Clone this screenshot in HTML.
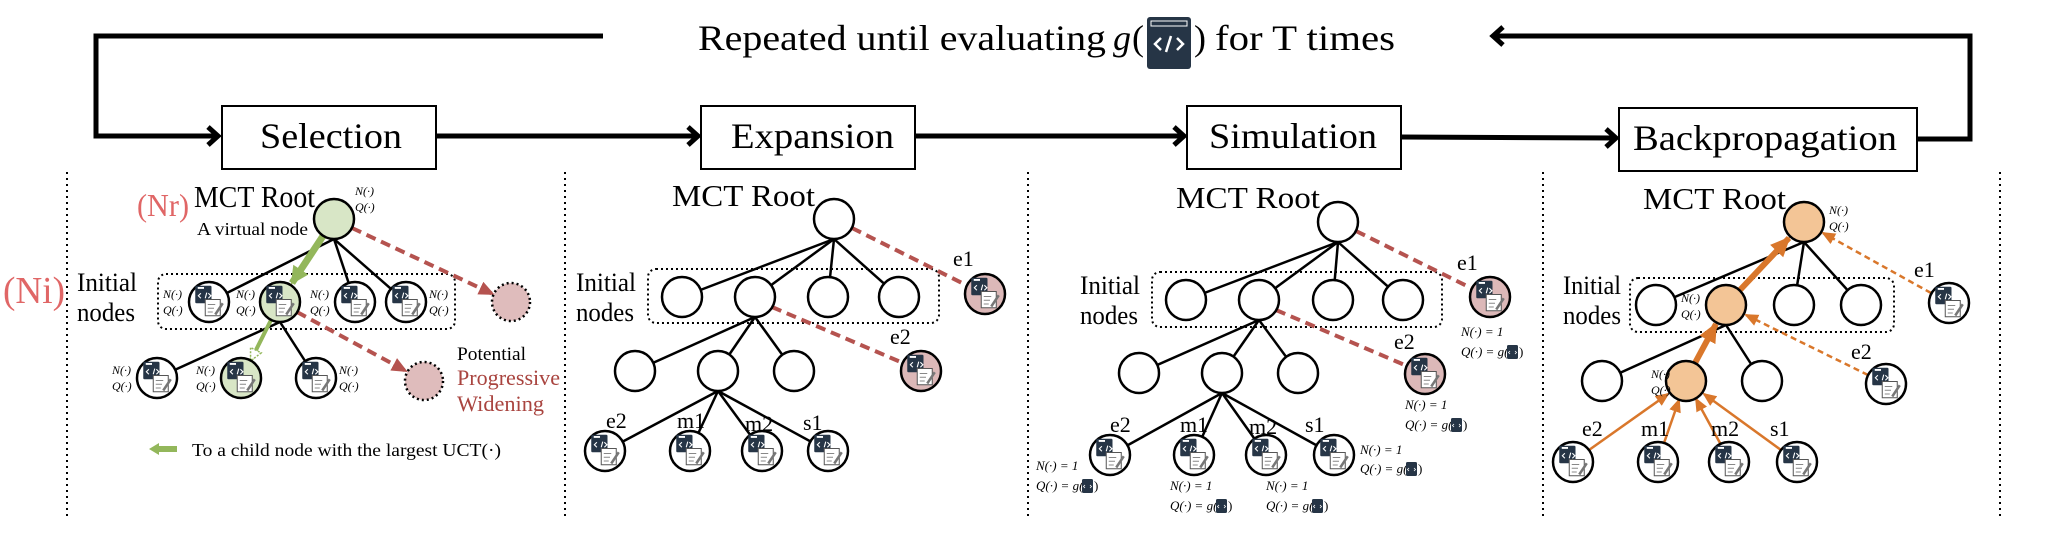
<!DOCTYPE html>
<html><head><meta charset="utf-8"><style>
html,body{margin:0;padding:0;background:#fff;}
svg{display:block;}
text{font-family:"Liberation Serif",serif;fill:#000;}
.nq{font-size:12px;font-style:italic;}
.lb{font-size:22px;}
.it{font-size:26px;}
.mr{font-size:31px;}
.bx{font-size:36px;}
.sm{font-size:13px;}
</style></head><body>
<svg width="2046" height="544" viewBox="0 0 2046 544" xmlns="http://www.w3.org/2000/svg">
<defs>
<symbol id="ic" viewBox="-16 -16 32 32" width="40" height="40">
<rect x="-11" y="-13" width="13" height="14" rx="1" fill="#263546"/>
<rect x="-9" y="-12" width="5" height="1.5" fill="#fff"/>
<path d="M-6.5,-7 l-2,2 2,2 M-0.5,-7 l2,2 -2,2 M-3,-3 l1.2,-4.5" stroke="#fff" stroke-width="0.9" fill="none"/>
<rect x="-3" y="-2" width="12" height="13" fill="#fff" stroke="#555" stroke-width="0.8"/>
<path d="M-1,2 h6 M-1,5 h5 M-1,8 h4" stroke="#888" stroke-width="0.8"/>
<path d="M5,10 L11,1" stroke="#777" stroke-width="2"/>
</symbol>
<symbol id="mi" viewBox="0 0 11 14" width="11" height="14">
<rect x="0" y="0" width="11" height="14" rx="1.5" fill="#263546"/>
<path d="M3,6 l-1.5,1.5 1.5,1.5 M8,6 l1.5,1.5 -1.5,1.5" stroke="#fff" stroke-width="0.8" fill="none"/>
</symbol>
<marker id="ar" markerUnits="userSpaceOnUse" markerWidth="16" markerHeight="16" refX="14" refY="8" orient="auto"><path d="M0,1 L16,8 L0,15 z" fill="#b5534f"/></marker>
<marker id="ag" markerUnits="userSpaceOnUse" markerWidth="18" markerHeight="18" refX="16" refY="9" orient="auto"><path d="M0,0 L18,9 L0,18 z" fill="#93b75b"/></marker>
<marker id="ag2" markerUnits="userSpaceOnUse" markerWidth="14" markerHeight="14" refX="12" refY="7" orient="auto"><path d="M1,1 L13,7 L1,13 z" fill="#fff" stroke="#93b75b" stroke-width="1.5" stroke-dasharray="2,1.5"/></marker>
<marker id="ao" markerUnits="userSpaceOnUse" markerWidth="14" markerHeight="14" refX="12" refY="7" orient="auto"><path d="M0,1 L14,7 L0,13 z" fill="#d9772b"/></marker>
<marker id="aoB" markerUnits="userSpaceOnUse" markerWidth="20" markerHeight="20" refX="18" refY="10" orient="auto"><path d="M0,1 L20,10 L0,19 z" fill="#d9772b"/></marker>
</defs>

<!-- top loop -->
<g stroke="#000" stroke-width="5" fill="none">
<polyline points="603,36 96,36 96,136 218,136"/>
<polyline points="208,127 218,136 208,145"/>
<line x1="436" y1="136" x2="698" y2="136"/>
<polyline points="688,127 698,136 688,145"/>
<line x1="915" y1="136" x2="1184" y2="136"/>
<polyline points="1174,127 1184,136 1174,145"/>
<line x1="1401" y1="137" x2="1616" y2="138"/>
<polyline points="1606,129 1616,138 1606,147"/>
<polyline points="1917,139 1970,139 1970,36 1493,36"/>
<polyline points="1503,27 1493,36 1503,45"/>
</g>
<text x="698" y="50" font-size="36" textLength="408" lengthAdjust="spacingAndGlyphs">Repeated until evaluating</text>
<text x="1113" y="50" font-size="36" font-style="italic">g</text>
<text x="1132" y="50" font-size="36">(</text>
<rect x="1147" y="17" width="44" height="52" rx="3" fill="#263546"/>
<rect x="1151" y="21" width="36" height="5" fill="#263546" stroke="#fff" stroke-width="1"/>
<path d="M1161,38 l-6,6 6,6 M1177,38 l6,6 -6,6 M1166,52 l5,-16" stroke="#fff" stroke-width="2.5" fill="none"/>
<text x="1194" y="50" font-size="36">)</text>
<text x="1215" y="50" font-size="36" textLength="180" lengthAdjust="spacingAndGlyphs">for T times</text>

<!-- boxes -->
<g fill="#fff" stroke="#000" stroke-width="2">
<rect x="222" y="106" width="214" height="63"/>
<rect x="701" y="106" width="214" height="63"/>
<rect x="1187" y="106" width="214" height="63"/>
<rect x="1619" y="108" width="298" height="63"/>
</g>
<text class="bx" x="260" y="148" textLength="142" lengthAdjust="spacingAndGlyphs">Selection</text>
<text class="bx" x="731" y="148" textLength="163" lengthAdjust="spacingAndGlyphs">Expansion</text>
<text class="bx" x="1209" y="148" textLength="168" lengthAdjust="spacingAndGlyphs">Simulation</text>
<text class="bx" x="1633" y="150" textLength="264" lengthAdjust="spacingAndGlyphs">Backpropagation</text>

<!-- separators -->
<g stroke="#000" stroke-width="2" stroke-dasharray="2,4">
<line x1="67" y1="172" x2="67" y2="517"/>
<line x1="565" y1="172" x2="565" y2="517"/>
<line x1="1028" y1="172" x2="1028" y2="517"/>
<line x1="1543" y1="172" x2="1543" y2="517"/>
<line x1="2000" y1="172" x2="2000" y2="517"/>
</g>

<!-- ===== Panel 1 ===== -->
<text x="137" y="216" font-size="32" style="fill:#e06666" textLength="52" lengthAdjust="spacingAndGlyphs">(Nr)</text>
<text x="3" y="303" font-size="38" style="fill:#e06666" textLength="62" lengthAdjust="spacingAndGlyphs">(Ni)</text>
<text class="mr" x="194" y="207" textLength="121" lengthAdjust="spacingAndGlyphs">MCT Root</text>
<text x="197" y="235" font-size="18" textLength="111" lengthAdjust="spacingAndGlyphs">A virtual node</text>
<text class="it" x="77" y="291" textLength="60" lengthAdjust="spacingAndGlyphs">Initial</text>
<text class="it" x="77" y="321" textLength="58" lengthAdjust="spacingAndGlyphs">nodes</text>
<rect x="158" y="274" width="297" height="55" rx="8" fill="none" stroke="#000" stroke-width="2" stroke-dasharray="2,3"/>
<g stroke="#000" stroke-width="2.5">
<line x1="334" y1="239" x2="209" y2="302"/>
<line x1="334" y1="239" x2="355" y2="302"/>
<line x1="334" y1="239" x2="406" y2="302"/>
<line x1="280" y1="322" x2="157" y2="378"/>
<line x1="280" y1="322" x2="316" y2="378"/>
</g>
<line x1="352" y1="228" x2="493" y2="294" stroke="#b5534f" stroke-width="4" stroke-dasharray="10,6" marker-end="url(#ar)"/>
<line x1="297" y1="312" x2="406" y2="371" stroke="#b5534f" stroke-width="4" stroke-dasharray="10,6" marker-end="url(#ar)"/>
<line x1="323" y1="236" x2="292" y2="283" stroke="#93b75b" stroke-width="7" marker-end="url(#ag)"/>
<line x1="271" y1="320" x2="251" y2="360" stroke="#93b75b" stroke-width="4" marker-end="url(#ag2)"/>
<g stroke="#000" stroke-width="2.5" fill="#fff">
<circle cx="334" cy="219" r="20" fill="#d8e6c6"/>
<circle cx="209" cy="302" r="20"/>
<circle cx="280" cy="302" r="20" fill="#d8e6c6"/>
<circle cx="355" cy="302" r="20"/>
<circle cx="406" cy="302" r="20"/>
<circle cx="157" cy="378" r="20"/>
<circle cx="241" cy="378" r="20" fill="#d8e6c6"/>
<circle cx="316" cy="378" r="20"/>
</g>
<g stroke="#000" stroke-width="2.5" fill="#dfbcbc" stroke-dasharray="2,3">
<circle cx="511" cy="302" r="19"/>
<circle cx="424" cy="381" r="19"/>
</g>
<use href="#ic" x="189" y="282"/><use href="#ic" x="260" y="282"/><use href="#ic" x="335" y="282"/><use href="#ic" x="386" y="282"/>
<use href="#ic" x="137" y="358"/><use href="#ic" x="221" y="358"/><use href="#ic" x="296" y="358"/>
<text class="nq" x="355" y="195">N(·)</text><text class="nq" x="355" y="211">Q(·)</text>
<text class="nq" x="163" y="298">N(·)</text><text class="nq" x="163" y="314">Q(·)</text>
<text class="nq" x="236" y="298">N(·)</text><text class="nq" x="236" y="314">Q(·)</text>
<text class="nq" x="310" y="298">N(·)</text><text class="nq" x="310" y="314">Q(·)</text>
<text class="nq" x="429" y="298">N(·)</text><text class="nq" x="429" y="314">Q(·)</text>
<text class="nq" x="112" y="374">N(·)</text><text class="nq" x="112" y="390">Q(·)</text>
<text class="nq" x="196" y="374">N(·)</text><text class="nq" x="196" y="390">Q(·)</text>
<text class="nq" x="339" y="374">N(·)</text><text class="nq" x="339" y="390">Q(·)</text>
<text x="457" y="360" font-size="19" textLength="69" lengthAdjust="spacingAndGlyphs">Potential</text>
<text x="457" y="385" font-size="22" style="fill:#a9443f" textLength="103" lengthAdjust="spacingAndGlyphs">Progressive</text>
<text x="457" y="411" font-size="22" style="fill:#a9443f" textLength="87" lengthAdjust="spacingAndGlyphs">Widening</text>
<path d="M149,449 L159,443 L159,446 L177,446 L177,452 L159,452 L159,455 z" fill="#93b75b"/>
<text x="192" y="456" font-size="18" textLength="309" lengthAdjust="spacingAndGlyphs">To a child node with the largest UCT(·)</text>

<!-- ===== Panel 2 ===== -->
<text class="mr" x="672" y="206" textLength="143" lengthAdjust="spacingAndGlyphs">MCT Root</text>
<text class="it" x="576" y="291" textLength="60" lengthAdjust="spacingAndGlyphs">Initial</text>
<text class="it" x="576" y="321" textLength="58" lengthAdjust="spacingAndGlyphs">nodes</text>
<rect x="648" y="269" width="291" height="54" rx="8" fill="none" stroke="#000" stroke-width="2" stroke-dasharray="2,3"/>
<g stroke="#000" stroke-width="2.5">
<line x1="834" y1="239" x2="682" y2="297"/><line x1="834" y1="239" x2="755" y2="297"/>
<line x1="834" y1="239" x2="828" y2="297"/><line x1="834" y1="239" x2="899" y2="297"/>
<line x1="755" y1="317" x2="635" y2="371"/><line x1="755" y1="317" x2="718" y2="371"/><line x1="755" y1="317" x2="794" y2="371"/>
<line x1="718" y1="391" x2="605" y2="451"/><line x1="718" y1="391" x2="690" y2="451"/>
<line x1="718" y1="391" x2="762" y2="451"/><line x1="718" y1="391" x2="828" y2="451"/>
</g>
<line x1="852" y1="228" x2="968" y2="286" stroke="#b5534f" stroke-width="4" stroke-dasharray="10,6"/>
<line x1="772" y1="307" x2="903" y2="363" stroke="#b5534f" stroke-width="4" stroke-dasharray="10,6"/>
<g stroke="#000" stroke-width="2.5" fill="#fff">
<circle cx="834" cy="219" r="20"/>
<circle cx="682" cy="297" r="20"/><circle cx="755" cy="297" r="20"/><circle cx="828" cy="297" r="20"/><circle cx="899" cy="297" r="20"/>
<circle cx="635" cy="371" r="20"/><circle cx="718" cy="371" r="20"/><circle cx="794" cy="371" r="20"/>
<circle cx="605" cy="451" r="20"/><circle cx="690" cy="451" r="20"/><circle cx="762" cy="451" r="20"/><circle cx="828" cy="451" r="20"/>
<circle cx="985" cy="294" r="20" fill="#dcb8b8"/><circle cx="921" cy="371" r="20" fill="#dcb8b8"/>
</g>
<use href="#ic" x="585" y="431"/><use href="#ic" x="670" y="431"/><use href="#ic" x="742" y="431"/><use href="#ic" x="808" y="431"/>
<use href="#ic" x="965" y="274"/><use href="#ic" x="901" y="351"/>
<text class="lb" x="953" y="266">e1</text><text class="lb" x="890" y="344">e2</text>
<text class="lb" x="606" y="428">e2</text><text class="lb" x="677" y="428">m1</text>
<text class="lb" x="745" y="431">m2</text><text class="lb" x="803" y="430">s1</text>

<!-- ===== Panel 3 ===== -->
<text class="mr" x="1176" y="208" textLength="144" lengthAdjust="spacingAndGlyphs">MCT Root</text>
<text class="it" x="1080" y="294" textLength="60" lengthAdjust="spacingAndGlyphs">Initial</text>
<text class="it" x="1080" y="324" textLength="58" lengthAdjust="spacingAndGlyphs">nodes</text>
<rect x="1152" y="272" width="290" height="55" rx="8" fill="none" stroke="#000" stroke-width="2" stroke-dasharray="2,3"/>
<g stroke="#000" stroke-width="2.5">
<line x1="1338" y1="242" x2="1186" y2="300"/><line x1="1338" y1="242" x2="1259" y2="300"/>
<line x1="1338" y1="242" x2="1333" y2="300"/><line x1="1338" y1="242" x2="1403" y2="300"/>
<line x1="1259" y1="320" x2="1139" y2="373"/><line x1="1259" y1="320" x2="1222" y2="373"/><line x1="1259" y1="320" x2="1298" y2="373"/>
<line x1="1222" y1="393" x2="1110" y2="455"/><line x1="1222" y1="393" x2="1194" y2="455"/>
<line x1="1222" y1="393" x2="1266" y2="455"/><line x1="1222" y1="393" x2="1334" y2="455"/>
</g>
<line x1="1356" y1="231" x2="1473" y2="289" stroke="#b5534f" stroke-width="4" stroke-dasharray="10,6"/>
<line x1="1276" y1="310" x2="1407" y2="366" stroke="#b5534f" stroke-width="4" stroke-dasharray="10,6"/>
<g stroke="#000" stroke-width="2.5" fill="#fff">
<circle cx="1338" cy="222" r="20"/>
<circle cx="1186" cy="300" r="20"/><circle cx="1259" cy="300" r="20"/><circle cx="1333" cy="300" r="20"/><circle cx="1403" cy="300" r="20"/>
<circle cx="1139" cy="373" r="20"/><circle cx="1222" cy="373" r="20"/><circle cx="1298" cy="373" r="20"/>
<circle cx="1110" cy="455" r="20"/><circle cx="1194" cy="455" r="20"/><circle cx="1266" cy="455" r="20"/><circle cx="1334" cy="455" r="20"/>
<circle cx="1490" cy="297" r="20" fill="#dcb8b8"/><circle cx="1425" cy="374" r="20" fill="#dcb8b8"/>
</g>
<use href="#ic" x="1090" y="435"/><use href="#ic" x="1174" y="435"/><use href="#ic" x="1246" y="435"/><use href="#ic" x="1314" y="435"/>
<use href="#ic" x="1470" y="277"/><use href="#ic" x="1405" y="354"/>
<text class="lb" x="1457" y="270">e1</text><text class="lb" x="1394" y="349">e2</text>
<text class="lb" x="1110" y="432">e2</text><text class="lb" x="1180" y="432">m1</text>
<text class="lb" x="1249" y="434">m2</text><text class="lb" x="1305" y="432">s1</text>
<text class="sm" x="1461" y="336" font-style="italic">N(·) = 1</text><text class="sm" x="1461" y="356" font-style="italic">Q(·) = g(</text><use href="#mi" x="1507" y="345"/><text class="sm" x="1519" y="356">)</text>
<text class="sm" x="1405" y="409" font-style="italic">N(·) = 1</text><text class="sm" x="1405" y="429" font-style="italic">Q(·) = g(</text><use href="#mi" x="1451" y="418"/><text class="sm" x="1463" y="429">)</text>
<text class="sm" x="1036" y="470" font-style="italic">N(·) = 1</text><text class="sm" x="1036" y="490" font-style="italic">Q(·) = g(</text><use href="#mi" x="1082" y="479"/><text class="sm" x="1094" y="490">)</text>
<text class="sm" x="1170" y="490" font-style="italic">N(·) = 1</text><text class="sm" x="1170" y="510" font-style="italic">Q(·) = g(</text><use href="#mi" x="1216" y="499"/><text class="sm" x="1228" y="510">)</text>
<text class="sm" x="1266" y="490" font-style="italic">N(·) = 1</text><text class="sm" x="1266" y="510" font-style="italic">Q(·) = g(</text><use href="#mi" x="1312" y="499"/><text class="sm" x="1324" y="510">)</text>
<text class="sm" x="1360" y="454" font-style="italic">N(·) = 1</text><text class="sm" x="1360" y="473" font-style="italic">Q(·) = g(</text><use href="#mi" x="1406" y="462"/><text class="sm" x="1418" y="473">)</text>

<!-- ===== Panel 4 ===== -->
<text class="mr" x="1643" y="209" textLength="143" lengthAdjust="spacingAndGlyphs">MCT Root</text>
<text class="it" x="1563" y="294" textLength="58" lengthAdjust="spacingAndGlyphs">Initial</text>
<text class="it" x="1563" y="324" textLength="58" lengthAdjust="spacingAndGlyphs">nodes</text>
<rect x="1630" y="278" width="264" height="54" rx="8" fill="none" stroke="#000" stroke-width="2" stroke-dasharray="2,3"/>
<g stroke="#000" stroke-width="2.5">
<line x1="1804" y1="242" x2="1656" y2="305"/><line x1="1804" y1="242" x2="1794" y2="305"/><line x1="1804" y1="242" x2="1861" y2="305"/>
<line x1="1726" y1="325" x2="1602" y2="381"/><line x1="1726" y1="325" x2="1762" y2="381"/>
</g>
<line x1="1695" y1="363" x2="1716" y2="324" stroke="#d9772b" stroke-width="6" marker-end="url(#aoB)"/>
<line x1="1740" y1="290" x2="1789" y2="238" stroke="#d9772b" stroke-width="6" marker-end="url(#aoB)"/>
<g stroke="#d9772b" stroke-width="2.5" stroke-dasharray="6,4">
<line x1="1931" y1="293" x2="1823" y2="233" marker-end="url(#ao)"/>
<line x1="1868" y1="375" x2="1746" y2="315" marker-end="url(#ao)"/>
</g>
<g stroke="#d9772b" stroke-width="2.5">
<line x1="1589" y1="450" x2="1668" y2="394" marker-end="url(#ao)"/>
<line x1="1664" y1="443" x2="1679" y2="400" marker-end="url(#ao)"/>
<line x1="1720" y1="443" x2="1696" y2="399" marker-end="url(#ao)"/>
<line x1="1781" y1="450" x2="1704" y2="394" marker-end="url(#ao)"/>
</g>
<g stroke="#000" stroke-width="2.5" fill="#fff">
<circle cx="1804" cy="222" r="20" fill="#f3c596"/>
<circle cx="1656" cy="305" r="20"/><circle cx="1726" cy="305" r="20" fill="#f3c596"/><circle cx="1794" cy="305" r="20"/><circle cx="1861" cy="305" r="20"/>
<circle cx="1602" cy="381" r="20"/><circle cx="1686" cy="381" r="20" fill="#f3c596"/><circle cx="1762" cy="381" r="20"/>
<circle cx="1573" cy="462" r="20"/><circle cx="1658" cy="462" r="20"/><circle cx="1729" cy="462" r="20"/><circle cx="1797" cy="462" r="20"/>
<circle cx="1949" cy="303" r="20"/><circle cx="1886" cy="384" r="20"/>
</g>
<use href="#ic" x="1553" y="442"/><use href="#ic" x="1638" y="442"/><use href="#ic" x="1709" y="442"/><use href="#ic" x="1777" y="442"/>
<use href="#ic" x="1929" y="283"/><use href="#ic" x="1866" y="364"/>
<text class="nq" x="1829" y="214">N(·)</text><text class="nq" x="1829" y="230">Q(·)</text>
<text class="nq" x="1681" y="302">N(·)</text><text class="nq" x="1681" y="318">Q(·)</text>
<text class="nq" x="1651" y="378">N(·)</text><text class="nq" x="1651" y="394">Q(·)</text>
<text class="lb" x="1914" y="277">e1</text><text class="lb" x="1851" y="359">e2</text>
<text class="lb" x="1582" y="436">e2</text><text class="lb" x="1641" y="436">m1</text>
<text class="lb" x="1711" y="436">m2</text><text class="lb" x="1770" y="436">s1</text>
</svg>
</body></html>
